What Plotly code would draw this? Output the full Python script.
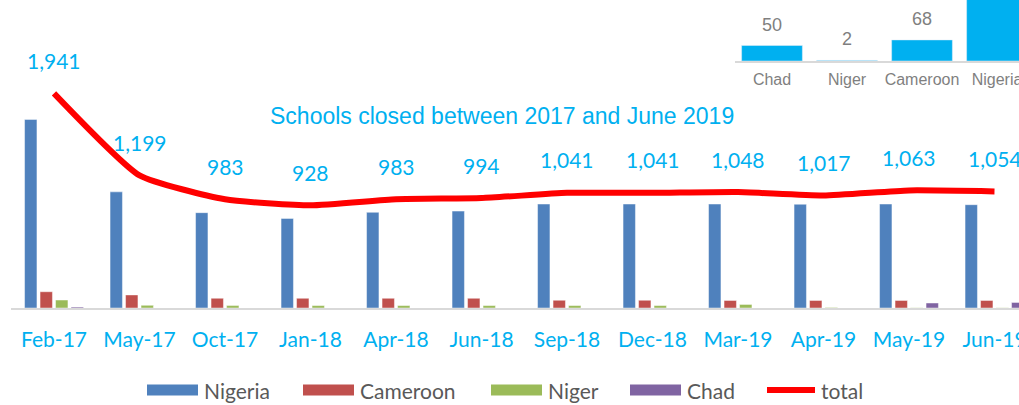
import plotly.graph_objects as go

# ---------------- data ----------------
months = ["Feb-17", "May-17", "Oct-17", "Jan-18", "Apr-18", "Jun-18",
          "Sep-18", "Dec-18", "Mar-19", "Apr-19", "May-19", "Jun-19"]
nigeria = [1705, 1050, 862, 810, 865, 876, 940, 940, 940, 938, 940, 934]
cameroon = [147, 118, 88, 88, 88, 88, 70, 70, 68, 68, 68, 68]
niger = [72, 24, 22, 22, 22, 22, 22, 22, 32, 5, 2, 2]
chad = [8, 0, 0, 0, 0, 0, 0, 0, 0, 0, 45, 50]
total = [1941, 1199, 983, 928, 983, 994, 1041, 1041, 1048, 1017, 1063, 1054]

inset_countries = ["Chad", "Niger", "Cameroon", "Nigeria"]
inset_values = [50, 2, 68, 934]

series_names = ["Nigeria", "Cameroon", "Niger", "Chad", "total"]
series_colors = ["#4F81BD", "#C0504D", "#9BBB59", "#8064A2", "#FF0000"]

# ---------------- layout helpers ----------------
W, H = 1019, 405
def px(x):
    return x / W
def py(y):
    return 1 - y / H

CAL = "Lato, 'Open Sans', sans-serif"
ARI = "'Liberation Sans', Arial, sans-serif"
CYAN = "#00B0F0"

fig = go.Figure()

bar_series = [nigeria, cameroon, niger, chad]
for name, vals, col in zip(series_names[:4], bar_series, series_colors[:4]):
    fig.add_trace(go.Bar(
        x=months, y=vals, name=name, marker_color=col,
        marker_line=dict(color="rgba(255,255,255,0.45)", width=1),
        xaxis="x", yaxis="y", showlegend=False))

fig.add_trace(go.Scatter(
    x=months, y=total, name="total", mode="lines",
    line=dict(color=series_colors[4], width=6, shape="spline", smoothing=0.5),
    xaxis="x", yaxis="y", showlegend=False))

# inset chart
fig.add_trace(go.Bar(
    x=inset_countries, y=inset_values, marker_color=CYAN, width=0.81,
    xaxis="x2", yaxis="y2", showlegend=False))

annotations = []
for m, t in zip(months, total):
    annotations.append(dict(
        x=m, y=t, xref="x", yref="y", text=f"{t:,}", showarrow=False,
        yshift=33, yanchor="middle", font=dict(family=CAL, size=21, color=CYAN)))

INSET_MAX = 196.8
for c, v in zip(inset_countries, inset_values):
    if v < INSET_MAX * 0.8:
        annotations.append(dict(
            x=c, y=v, xref="x2", yref="y2", text=f"{v:,}", showarrow=False,
            yshift=21, yanchor="middle", font=dict(family=ARI, size=18, color="#7F7F7F")))

# title
annotations.append(dict(
    x=px(501.5), y=py(115.5), xref="paper", yref="paper",
    text="Schools closed between 2017 and June 2019", showarrow=False,
    xanchor="center", yanchor="middle", font=dict(family=ARI, size=23, color=CYAN)))

# custom legend
shapes = []
legend_x = [147, 303, 491, 630, 764]
legend_y = 390
for i, (name, col, lx) in enumerate(zip(series_names, series_colors, legend_x)):
    if name == "total":
        shapes.append(dict(type="line", xref="paper", yref="paper",
                           x0=px(lx + 3), x1=px(lx + 51), y0=py(legend_y), y1=py(legend_y),
                           line=dict(color=col, width=6)))
    else:
        shapes.append(dict(type="rect", xref="paper", yref="paper",
                           x0=px(lx), x1=px(lx + 51), y0=py(legend_y - 5.5), y1=py(legend_y + 5.5),
                           fillcolor=col, line=dict(width=0)))
    annotations.append(dict(
        x=px(lx + 55), y=py(legend_y), xref="paper", yref="paper", text=name,
        showarrow=False, xanchor="left", yanchor="middle",
        font=dict(family=CAL, size=21, color="#595959")))

fig.update_layout(
    width=W, height=H,
    margin=dict(l=0, r=0, t=0, b=0),
    paper_bgcolor="white", plot_bgcolor="rgba(0,0,0,0)",
    barmode="group", bargap=0.275, bargroupgap=0.2,
    xaxis=dict(domain=[px(11.25), 1], range=[-0.5, -0.5 + (W - 11.25) / 85.5],
               type="category", showgrid=False, zeroline=False,
               showline=True, linecolor="#D9D9D9", linewidth=2,
               tickfont=dict(family=CAL, size=21, color=CYAN),
               ticks="", ticklabelstandoff=12, automargin=False, fixedrange=True),
    yaxis=dict(domain=[1 - 308 / H, 1], range=[0, 308 / 0.1106], visible=False,
               fixedrange=True),
    xaxis2=dict(domain=[px(734.5), 1], range=[-0.5, -0.5 + (W - 734.5) / 75],
                type="category", showgrid=False, zeroline=False,
                showline=True, linecolor="#D9D9D9", linewidth=2,
                tickfont=dict(family=ARI, size=16, color="#7F7F7F"),
                ticks="", ticklabelstandoff=3, automargin=False, anchor="y2",
                fixedrange=True),
    yaxis2=dict(domain=[1 - 61 / H, 1], range=[0, INSET_MAX], visible=False,
                anchor="x2", fixedrange=True),
    annotations=annotations, shapes=shapes,
)

fig.write_html("out.html", config={"displayModeBar": False})
